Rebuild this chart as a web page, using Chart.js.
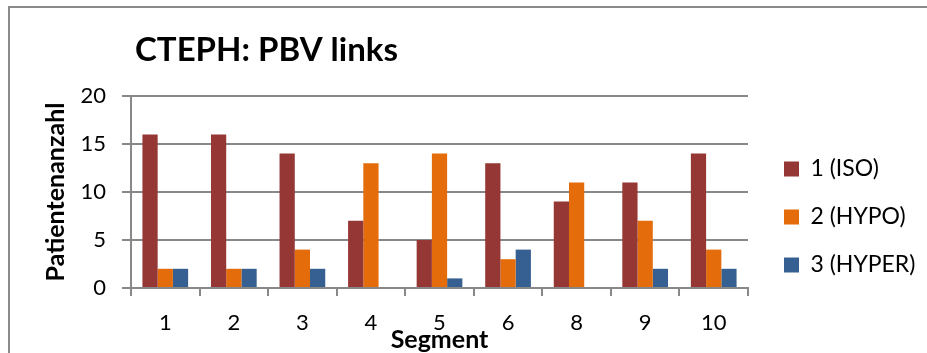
<!DOCTYPE html>
<html>
<head>
<meta charset="utf-8">
<script src="https://cdn.jsdelivr.net/npm/chart.js@4/dist/chart.umd.min.js"></script>
<style>
  html, body { margin: 0; padding: 0; background: #fff; }
  #wrap { position: relative; width: 927px; height: 353px; overflow: hidden; }
  #frame { position: absolute; left: 8px; top: 6px; width: 2000px; height: 1000px;
           border-top: 2px solid #8a8a8a; border-left: 2px solid #8a8a8a; box-sizing: border-box; }
  canvas { position: absolute; left: 0; top: 0; }
</style>
</head>
<body>
<div id="wrap">
  <div id="frame"></div>
  <canvas id="c" width="927" height="353"></canvas>
</div>
<script>
const chartTitle = 'CTEPH: PBV links';
const xAxisTitle = 'Segment';
const yAxisTitle = 'Patientenanzahl';
const categories = ['1', '2', '3', '4', '5', '6', '8', '9', '10'];
const seriesNames = ['1 (ISO)', '2 (HYPO)', '3 (HYPER)'];
const isoValues = [16, 16, 14, 7, 5, 13, 9, 11, 14];
const hypoValues = [2, 2, 4, 13, 14, 3, 11, 7, 4];
const hyperValues = [2, 2, 2, 0, 1, 4, 0, 2, 2];
const yTicks = [0, 5, 10, 15, 20];

const FONT = 'Lato';
const gridColor = '#888888';

const titlePlugin = {
  id: 'fixedTitle',
  afterDraw(chart) {
    const ctx = chart.ctx;
    ctx.save();
    ctx.font = 'bold 33px ' + FONT;
    ctx.fillStyle = '#000';
    ctx.textAlign = 'left';
    ctx.textBaseline = 'alphabetic';
    ctx.fillText(chartTitle, chart.chartArea.left + 4, 61);
    ctx.restore();
  }
};

const chart = new Chart(document.getElementById('c'), {
  type: 'bar',
  data: {
    labels: categories,
    datasets: [
      { label: seriesNames[0], data: isoValues, backgroundColor: '#953735' },
      { label: seriesNames[1], data: hypoValues, backgroundColor: '#E46C0A' },
      { label: seriesNames[2], data: hyperValues, backgroundColor: '#376092' }
    ]
  },
  options: {
    responsive: false,
    animation: false,
    devicePixelRatio: 1,
    layout: { padding: { left: 44, top: 96, right: 0, bottom: 15 } },
    datasets: { bar: { categoryPercentage: 3 / 4.5, barPercentage: 1.0 } },
    plugins: {
      title: { display: false },
      tooltip: { enabled: false },
      legend: {
        position: 'right',
        align: 'center',
        labels: {
          font: { family: FONT, size: 23 },
          color: '#000',
          boxWidth: 15,
          boxHeight: 15,
          padding: 25
        }
      }
    },
    scales: {
      x: {
        grid: { display: true, drawOnChartArea: false, drawTicks: true, tickLength: 8, color: gridColor, lineWidth: 2, offset: true },
        border: { display: true, color: gridColor, width: 2 },
        ticks: { font: { family: FONT, size: 22 }, color: '#000', padding: 14, maxRotation: 0 },
        title: { display: true, text: xAxisTitle, font: { family: FONT, size: 25, weight: 'bold' }, color: '#000', padding: { top: 0, bottom: -17 } },
        afterFit(s) { s.height = 353 - 15 - 288; }
      },
      y: {
        min: 0, max: 20,
        afterBuildTicks(s) { s.ticks = yTicks.map(v => ({ value: v })); },
        grid: { color: gridColor, lineWidth: 2, drawTicks: true, tickLength: 9 },
        border: { display: true, color: gridColor, width: 2 },
        ticks: { font: { family: FONT, size: 22 }, color: '#000', padding: 16 },
        title: { display: true, text: yAxisTitle, font: { family: FONT, size: 25, weight: 'bold' }, color: '#000', padding: { top: -3, bottom: 0 } },
        afterFit(s) { s.width = 131 - 44; }
      },
      pad: {
        type: 'linear', position: 'right', display: false,
        afterFit(s) { s.width = 11; }
      }
    }
  },
  plugins: [titlePlugin]
});

const lw = chart.legend.width;
chart.options.layout.padding.right = Math.max(0, 927 - 748 - 11 - lw);
chart.update('none');
</script>
</body>
</html>
